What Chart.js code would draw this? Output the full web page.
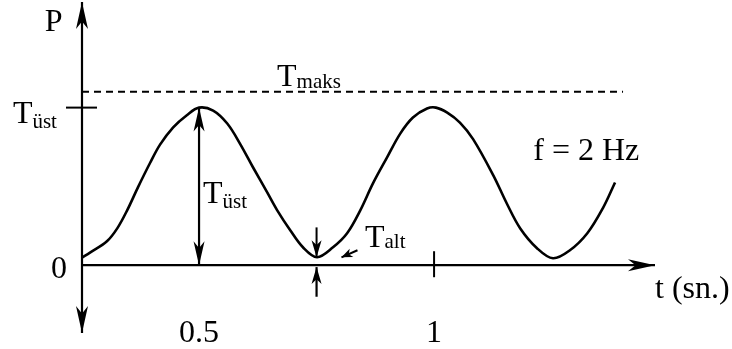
<!DOCTYPE html>
<html>
<head>
<meta charset="utf-8">
<script src="https://cdn.jsdelivr.net/npm/chart.js@4"></script>
<style>
html,body{margin:0;padding:0;background:#fff;}
canvas{display:block;}
</style>
</head>
<body>
<canvas id="c" width="732" height="349"></canvas>
<script>
// Load curve P(t) (P in units of T_üst)
const timeValues = [0.251,0.268,0.304,0.326,0.347,0.370,0.396,0.417,0.445,0.474,0.500,0.530,0.560,0.587,0.615,0.645,0.666,0.694,0.721,0.751,0.785,0.815,0.843,0.870,0.900,0.928,0.955,0.985,1.004,1.028,1.055,1.083,1.126,1.155,1.183,1.219,1.253,1.289,1.326,1.360,1.385];
const loadValues = [0.048,0.080,0.152,0.234,0.348,0.494,0.650,0.765,0.875,0.952,1.000,0.981,0.899,0.772,0.620,0.462,0.350,0.222,0.114,0.051,0.114,0.203,0.348,0.519,0.684,0.835,0.937,0.994,1.000,0.968,0.905,0.800,0.570,0.390,0.235,0.108,0.044,0.095,0.203,0.367,0.525];

// Reference levels
const tUst = 1.0;     // T_üst
const tMaks = 1.10;   // T_maks
const tAlt = 0.05;    // T_alt (curve minimum)

// Axis ranges
const tMin = 0.251, tMax = 1.470;
const pMin = -0.430, pMax = 1.670;
const dashEnd = 1.402;

// Tick labels on the time axis
const tickValues = [0.5, 1];
const tickLabels = ["0.5", "1"];

// Text labels: [main, subscript, t, P]
const labelTexts = [
  ["P", "", 0.172, 1.487],
  ["T", "üst", 0.104, 0.905],
  ["T", "maks", 0.666, 1.139],
  ["T", "üst", 0.5085, 0.392],
  ["T", "alt", 0.853, 0.114],
  ["f = 2 Hz", "", 1.211, 0.665],
  ["t (sn.)", "", 1.470, -0.209]
];
const subOffsets = [0, 5, 2, 5, 1, 0, 0];

const points = timeValues.map((t, i) => ({x: t, y: loadValues[i]}));

function arrowHead(ctx, x1, y1, x2, y2, len, half) {
  const a = Math.atan2(y2 - y1, x2 - x1);
  const c = Math.cos(a), s = Math.sin(a);
  ctx.beginPath();
  ctx.moveTo(x2, y2);
  ctx.lineTo(x2 - len*c + half*s, y2 - len*s - half*c);
  ctx.lineTo(x2 - len*0.72*c, y2 - len*0.72*s);
  ctx.lineTo(x2 - len*c - half*s, y2 - len*s + half*c);
  ctx.closePath();
  ctx.fill();
}
function arrowLine(ctx, x1, y1, x2, y2, w, startHead, endHead, len, half) {
  ctx.lineWidth = w;
  ctx.beginPath(); ctx.moveTo(x1, y1); ctx.lineTo(x2, y2); ctx.stroke();
  if (endHead) arrowHead(ctx, x1, y1, x2, y2, len, half);
  if (startHead) arrowHead(ctx, x2, y2, x1, y1, len, half);
}

const FONT = '"Liberation Serif", "Times New Roman", serif';

const overlay = {
  id: 'overlay',
  afterDraw(chart) {
    const ctx = chart.ctx;
    const X = v => chart.scales.x.getPixelForValue(v);
    const Y = v => chart.scales.y.getPixelForValue(v);
    ctx.save();
    ctx.strokeStyle = '#000';
    ctx.fillStyle = '#000';
    ctx.lineCap = 'butt';
    // axes
    arrowLine(ctx, X(tMin), Y(pMin), X(tMin), Y(pMax), 2.2, true, true, 27, 6);
    arrowLine(ctx, X(tMin), Y(0), X(tMax), Y(0), 2.2, false, true, 27, 6);
    // dashed T_maks line
    ctx.setLineDash([7, 5]);
    ctx.lineWidth = 2;
    ctx.beginPath(); ctx.moveTo(X(tMin), Y(tMaks)); ctx.lineTo(X(dashEnd), Y(tMaks)); ctx.stroke();
    ctx.setLineDash([]);
    // T_üst tick on the P axis
    ctx.lineWidth = 2;
    ctx.beginPath(); ctx.moveTo(X(tMin) - 16, Y(tUst)); ctx.lineTo(X(tMin) + 15, Y(tUst)); ctx.stroke();
    // tick at t=1
    ctx.beginPath(); ctx.moveTo(X(1), Y(0) - 14); ctx.lineTo(X(1), Y(0) + 12); ctx.stroke();
    // double arrow for amplitude
    arrowLine(ctx, X(0.5), Y(0), X(0.5), Y(tUst), 2.2, true, true, 24, 5.5);
    // arrows around the minimum
    arrowLine(ctx, X(0.75), Y(0.24), X(0.75), Y(tAlt), 2, false, true, 17, 5);
    arrowLine(ctx, X(0.75), Y(-0.20), X(0.75), Y(-0.012), 2.2, false, true, 17, 5);
    arrowLine(ctx, X(0.837), Y(0.095), X(0.803), Y(0.05), 2, false, true, 11, 4.5);
    // tick labels
    ctx.font = '32px ' + FONT;
    ctx.textBaseline = 'alphabetic';
    ctx.textAlign = 'center';
    tickValues.forEach((v, i) => ctx.fillText(tickLabels[i], X(v), Y(-0.490)));
    ctx.textAlign = 'right';
    ctx.fillText("0", X(0.219), Y(-0.082));
    // labels
    ctx.textAlign = 'left';
    labelTexts.forEach((l, i) => {
      ctx.font = '32px ' + FONT;
      const x = X(l[2]), y = Y(l[3]);
      ctx.fillText(l[0], x, y);
      if (l[1]) {
        const w = ctx.measureText(l[0]).width;
        ctx.font = '21px ' + FONT;
        ctx.fillText(l[1], x + w, y + subOffsets[i]);
      }
    });
    ctx.restore();
  }
};

new Chart(document.getElementById('c'), {
  type: 'line',
  data: {
    datasets: [{
      data: points,
      borderColor: '#000',
      borderWidth: 2.6,
      pointRadius: 0,
      fill: false,
      tension: 0.35
    }]
  },
  options: {
    responsive: false,
    devicePixelRatio: 1,
    animation: false,
    layout: {padding: {left: 82, right: 77, top: 2, bottom: 16}},
    plugins: {legend: {display: false}, tooltip: {enabled: false}},
    scales: {
      x: {type: 'linear', min: tMin, max: tMax, display: false},
      y: {type: 'linear', min: pMin, max: pMax, display: false}
    }
  },
  plugins: [overlay]
});
</script>
</body>
</html>
